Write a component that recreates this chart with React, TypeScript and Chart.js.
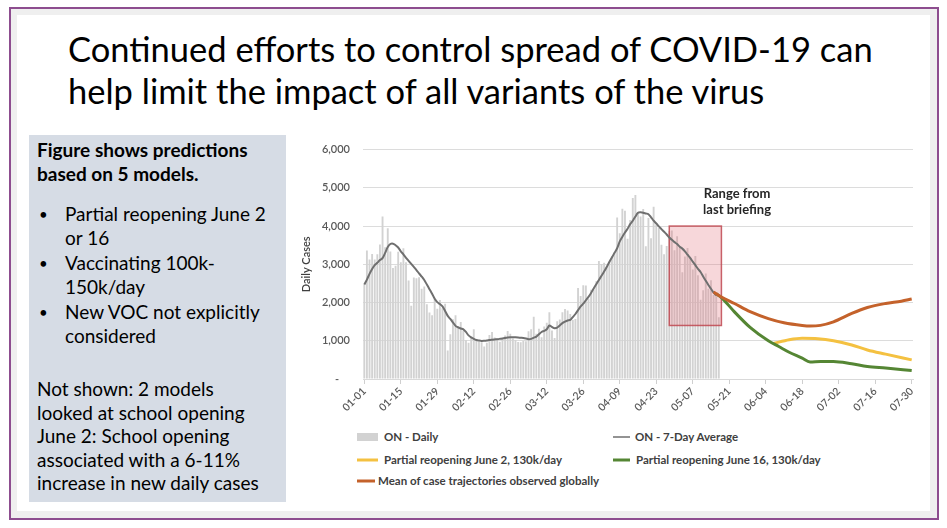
import React, { useEffect, useRef } from 'react';
import { Chart, registerables } from 'chart.js';

Chart.register(...registerables);

const FONT = 'Lato, "Open Sans", "DejaVu Sans", sans-serif';

// ---------- DATA ----------
const FIRST_DAY = { year: 2021, month: 0, day: 1 };
const DAY_COUNT = 211; // 01-01 .. 07-30

const xTickLabels = ['01-01', '01-15', '01-29', '02-12', '02-26', '03-12', '03-26', '04-09', '04-23', '05-07', '05-21', '06-04', '06-18', '07-02', '07-16', '07-30'];
const yTickValues = [0, 1000, 2000, 3000, 4000, 5000, 6000];

// ON - Daily (from 01-01)
const dailyCases = [
  2476, 3363, 3128, 3270, 3128, 3266, 3519, 4249, 3443, 3945, 3338, 2903, 2961, 3326, 3056, 3422,
  3056, 2578, 1913, 2655, 2632, 2662, 2359, 2417, 1958, 1740, 1670, 2093, 1837, 2063, 1848,
  1969, 745, 1172, 1563, 1670, 1388, 1489, 1265, 1022, 945, 1076, 1300, 1044, 981, 964, 847,
  945, 1150, 1228, 1087, 1058, 975, 1054, 1138, 1258, 1185, 1062, 1023, 966, 958, 994, 990,
  1250, 1299, 1631, 1185, 1316, 1092, 1371, 1468, 1747, 1268, 1074, 1508, 1553, 1745, 1829,
  1791, 1699, 1546, 1571, 2380, 2169, 2453, 2448, 2094, 2336, 2333, 2557, 3089, 3009, 3041,
  2938, 3065, 3215, 3295, 4227, 3813, 4456, 4401, 3670, 4156, 4736, 4812, 4362, 4250, 4447,
  3469, 4212, 3682, 4505, 4094, 3947, 3510, 3265, 3480, 3871, 3887, 3369, 3732, 3436, 2791,
  3207, 3424, 3166, 2864, 3216, 2716, 2073, 2320, 2759, 2362, 2584, 2199, 2170, 1616,
];

// ON - 7-Day Average (from 01-01)
const sevenDayAvg = [
  2470, 2600, 2750, 2880, 2980, 3040, 3110, 3160, 3300, 3450, 3530, 3540, 3500, 3440, 3340, 3260,
  3170, 3090, 3010, 2930, 2850, 2760, 2680, 2590, 2470, 2350, 2230, 2100, 2010, 1960, 1900,
  1780, 1650, 1570, 1480, 1390, 1350, 1320, 1300, 1230, 1140, 1090, 1050, 1020, 1005, 995,
  998, 1005, 1020, 1028, 1035, 1040, 1050, 1062, 1075, 1085, 1090, 1092, 1090, 1085, 1078,
  1072, 1060, 1042, 1050, 1080, 1110, 1170, 1230, 1260, 1300, 1400, 1360, 1330, 1345, 1400,
  1460, 1500, 1530, 1545, 1620, 1700, 1800, 1900, 1970, 2060, 2150, 2250, 2370, 2480, 2590,
  2700, 2810, 2930, 3060, 3180, 3300, 3420, 3600, 3720, 3830, 3930, 4050, 4140, 4250, 4350,
  4360, 4350, 4330, 4310, 4230, 4140, 4070, 3990, 3920, 3850, 3780, 3700, 3640, 3580, 3530,
  3460, 3410, 3340, 3250, 3170, 3070, 2980, 2880, 2800, 2680, 2570, 2460, 2360, 2260, 2190,
];

// Partial reopening June 2, 130k/day
const june2Dates = ['06-07', '06-13', '06-18', '06-24', '06-30', '07-07', '07-13', '07-20', '07-30'];
const june2Values = [930, 1025, 1064, 1055, 1003, 890, 760, 650, 500];

// Partial reopening June 16, 130k/day
const june16Dates = ['05-16', '05-18', '05-23', '05-29', '06-05', '06-09', '06-13', '06-18', '06-21', '06-25', '06-30', '07-07', '07-13', '07-20', '07-30'];
const june16Values = [2230, 2130, 1756, 1350, 1000, 850, 700, 545, 445, 457, 457, 397, 327, 286, 223];

// Mean of case trajectories observed globally
const globalDates = ['05-15', '05-18', '05-23', '05-29', '06-05', '06-11', '06-18', '06-21', '06-25', '06-30', '07-07', '07-13', '07-20', '07-26', '07-30'];
const globalValues = [2275, 2145, 1974, 1760, 1580, 1470, 1400, 1385, 1403, 1495, 1715, 1870, 1975, 2035, 2090];

// Range from last briefing
const rangeStart = '04-28';
const rangeEnd = '05-18';
const rangeLow = 1400;
const rangeHigh = 4000;
const rangeTextLines = ['Range from', 'last briefing'];
const rangeTextAt = '05-24';
const rangeTextValues = [4730, 4310];

// ---------- helpers ----------
function makeDayLabels(): string[] {
  const out: string[] = [];
  for (let i = 0; i < DAY_COUNT; i++) {
    const d = new Date(Date.UTC(FIRST_DAY.year, FIRST_DAY.month, FIRST_DAY.day + i));
    out.push(String(d.getUTCMonth() + 1).padStart(2, '0') + '-' + String(d.getUTCDate()).padStart(2, '0'));
  }
  return out;
}

function pairs(dates: string[], values: number[]) {
  return dates.map((d, i) => ({ x: d, y: values[i] }));
}

const rangePlugin = {
  id: 'rangeBox',
  afterDatasetDraw(chart: any, args: any) {
    if (args.index !== 0) return;
    const { ctx, scales } = chart;
    const xs = scales.x;
    const ys = scales.y;
    const labels = chart.data.labels as string[];
    const x0 = xs.getPixelForValue(labels.indexOf(rangeStart));
    const x1 = xs.getPixelForValue(labels.indexOf(rangeEnd));
    const y0 = ys.getPixelForValue(rangeHigh);
    const y1 = ys.getPixelForValue(rangeLow);
    ctx.save();
    ctx.fillStyle = 'rgba(226, 110, 122, 0.28)';
    ctx.fillRect(x0, y0, x1 - x0, y1 - y0);
    ctx.strokeStyle = 'rgba(192, 72, 80, 0.85)';
    ctx.lineWidth = 1.5;
    ctx.strokeRect(x0, y0, x1 - x0, y1 - y0);
    ctx.restore();
  },
  afterDraw(chart: any) {
    const { ctx, scales } = chart;
    const labels = chart.data.labels as string[];
    const cx = scales.x.getPixelForValue(labels.indexOf(rangeTextAt));
    ctx.save();
    ctx.font = `bold 13px ${FONT}`;
    ctx.fillStyle = '#262626';
    ctx.textAlign = 'center';
    ctx.textBaseline = 'alphabetic';
    rangeTextLines.forEach((t, i) => {
      ctx.fillText(t, cx, scales.y.getPixelForValue(rangeTextValues[i]));
    });
    ctx.restore();
  },
};

function CasesChart() {
  const ref = useRef<HTMLCanvasElement | null>(null);
  useEffect(() => {
    if (!ref.current) return;
    const labels = makeDayLabels();
    const tickSet = new Set(xTickLabels);
    const chart = new Chart(ref.current, {
      data: {
        labels,
        datasets: [
          {
            type: 'bar',
            label: 'ON - Daily',
            data: dailyCases,
            backgroundColor: '#d2d2d2',
            barPercentage: 0.72,
            categoryPercentage: 1,
            order: 5,
          },
          {
            type: 'line',
            label: 'ON - 7-Day Average',
            data: sevenDayAvg,
            borderColor: '#6f6f6f',
            borderWidth: 2,
            pointRadius: 0,
            tension: 0.3,
            order: 4,
          },
          {
            type: 'line',
            label: 'Partial reopening June 2, 130k/day',
            data: pairs(june2Dates, june2Values),
            borderColor: '#f4c141',
            borderWidth: 3,
            pointRadius: 0,
            cubicInterpolationMode: 'monotone',
            order: 3,
          },
          {
            type: 'line',
            label: 'Partial reopening June 16, 130k/day',
            data: pairs(june16Dates, june16Values),
            borderColor: '#558634',
            borderWidth: 3,
            pointRadius: 0,
            cubicInterpolationMode: 'monotone',
            order: 2,
          },
          {
            type: 'line',
            label: 'Mean of case trajectories observed globally',
            data: pairs(globalDates, globalValues),
            borderColor: '#c4622b',
            borderWidth: 3,
            pointRadius: 0,
            cubicInterpolationMode: 'monotone',
            order: 1,
          },
        ],
      } as any,
      options: {
        animation: false,
        responsive: true,
        maintainAspectRatio: false,
        layout: { padding: { top: 18, right: 17, bottom: 0, left: 0 } },
        plugins: { legend: { display: false }, tooltip: { enabled: false } },
        scales: {
          x: {
            type: 'category',
            afterFit: (s: any) => { s.height = 51; },
            grid: {
              drawOnChartArea: false,
              drawTicks: true,
              tickLength: 5,
              offset: false,
              color: (c: any) => (c.tick && tickSet.has(c.tick.label) ? '#cfcfcf' : 'rgba(0,0,0,0)'),
            },
            border: { display: true, color: '#d9d9d9' },
            ticks: {
              autoSkip: false,
              maxRotation: 45,
              minRotation: 45,
              padding: 1,
              color: '#595959',
              font: { family: FONT, size: 10.5, weight: '600' },
              callback: (_v: any, i: number) => (tickSet.has(labels[i]) ? labels[i] : ''),
            },
          },
          y: {
            min: 0,
            max: 6000,
            afterFit: (s: any) => { s.width = 73; },
            afterBuildTicks: (s: any) => { s.ticks = yTickValues.map((v) => ({ value: v })); },
            grid: { color: '#dcdcdc', drawTicks: false, lineWidth: 1 },
            border: { display: false },
            ticks: {
              padding: 13,
              color: '#595959',
              font: { family: FONT, size: 11, weight: '600' },
              callback: (v: any) => (Number(v) === 0 ? '-    ' : Number(v).toLocaleString('en-US')),
            },
            title: {
              display: true,
              text: 'Daily Cases',
              color: '#404040',
              font: { family: FONT, size: 11, weight: '600' },
              padding: { top: 10, bottom: 0 },
            },
          },
        },
      },
      plugins: [rangePlugin],
    } as any);
    return () => chart.destroy();
  }, []);
  return <canvas ref={ref} />;
}

const bodyLines = [
  { text: 'Figure shows predictions', x: 37, y: 157, bold: true },
  { text: 'based on 5 models.', x: 37, y: 181, bold: true },
  { text: 'Partial reopening June 2', x: 65, y: 221, bullet: true },
  { text: 'or 16', x: 65, y: 245 },
  { text: 'Vaccinating 100k-', x: 65, y: 270, bullet: true },
  { text: '150k/day', x: 65, y: 294 },
  { text: 'New VOC not explicitly', x: 65, y: 319, bullet: true },
  { text: 'considered', x: 65, y: 343 },
  { text: 'Not shown: 2 models', x: 37, y: 396 },
  { text: 'looked at school opening', x: 37, y: 420 },
  { text: 'June 2: School opening', x: 37, y: 443 },
  { text: 'associated with a 6-11%', x: 37, y: 467 },
  { text: 'increase in new daily cases', x: 37, y: 490 },
];

const legendFont = { fontFamily: FONT, fontSize: 11.5, fontWeight: 700, fill: '#404040' } as const;

export default function App() {
  return (
    <div style={{ position: 'absolute', left: 0, top: 0, width: 947, height: 528, background: '#ffffff', overflow: 'hidden' }}>
      <div style={{ position: 'absolute', left: 9, top: 7, width: 930, height: 513, boxSizing: 'border-box', border: '2px solid #8d4d8f', background: '#efefef' }} />
      <div style={{ position: 'absolute', left: 17, top: 15, width: 913, height: 496, background: '#ffffff' }} />
      <svg width={947} height={528} style={{ position: 'absolute', left: 0, top: 0 }}>
        <text x={68} y={62} fontFamily={FONT} fontSize={34.5} fill="#000">Continued efforts to control spread of COVID-19 can</text>
        <text x={68} y={104} fontFamily={FONT} fontSize={34.5} fill="#000">help limit the impact of all variants of the virus</text>
        <rect x={29} y={135} width={257} height={367} fill="#d6dce5" />
        {bodyLines.map((l, i) => (
          <g key={i}>
            {l.bullet ? (
              <text x={39} y={l.y - 1} fontFamily={FONT} fontSize={15} fill="#000">•</text>
            ) : null}
            <text x={l.x} y={l.y} fontFamily={FONT} fontSize={19} fontWeight={l.bold ? 700 : 400} fill="#000">{l.text}</text>
          </g>
        ))}
        <rect x={357} y={433} width={21} height={8} fill="#d2d2d2" />
        <text x={384} y={441} {...legendFont}>ON - Daily</text>
        <line x1={613} x2={630} y1={437} y2={437} stroke="#6f6f6f" strokeWidth={1.5} />
        <text x={635} y={441} {...legendFont}>ON - 7-Day Average</text>
        <line x1={357} x2={378} y1={460} y2={460} stroke="#f4c141" strokeWidth={3} />
        <text x={384} y={464} {...legendFont}>Partial reopening June 2, 130k/day</text>
        <line x1={613} x2={630} y1={460} y2={460} stroke="#558634" strokeWidth={3} />
        <text x={636} y={464} {...legendFont}>Partial reopening June 16, 130k/day</text>
        <line x1={357} x2={375} y1={481} y2={481} stroke="#c4622b" strokeWidth={3} />
        <text x={378} y={485} {...legendFont}>Mean of case trajectories observed globally</text>
      </svg>
      <div style={{ position: 'absolute', left: 290, top: 130, width: 640, height: 300 }}>
        <CasesChart />
      </div>
    </div>
  );
}
